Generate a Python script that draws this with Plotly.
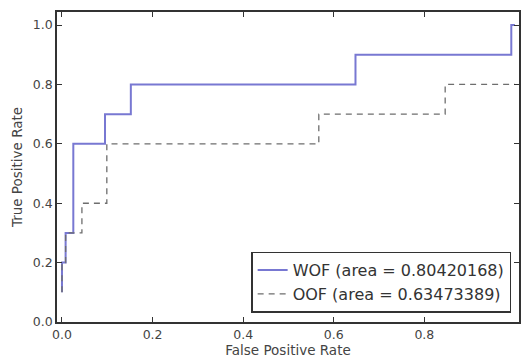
import plotly.graph_objects as go

# WOF ROC curve (step points)
wof_fpr = [0.0, 0.0, 0.008, 0.008, 0.025, 0.025, 0.095, 0.095, 0.152, 0.152, 0.648, 0.648, 0.992, 0.992, 1.0]
wof_tpr = [0.1, 0.2, 0.2, 0.3, 0.3, 0.6, 0.6, 0.7, 0.7, 0.8, 0.8, 0.9, 0.9, 1.0, 1.0]

# OOF ROC curve (step points)
oof_fpr = [0.0, 0.0, 0.008, 0.008, 0.044, 0.044, 0.099, 0.099, 0.567, 0.567, 0.846, 0.846, 1.0]
oof_tpr = [0.1, 0.2, 0.2, 0.3, 0.3, 0.4, 0.4, 0.6, 0.6, 0.7, 0.7, 0.8, 0.8]

wof_label = "WOF (area = 0.80420168)"
oof_label = "OOF (area = 0.63473389)"

x_ticks = [0.0, 0.2, 0.4, 0.6, 0.8]
y_ticks = [0.0, 0.2, 0.4, 0.6, 0.8, 1.0]

fig = go.Figure()
fig.add_trace(go.Scatter(x=wof_fpr, y=wof_tpr, mode="lines", name=wof_label,
                         line=dict(color="#7878d2", width=2)))
fig.add_trace(go.Scatter(x=oof_fpr, y=oof_tpr, mode="lines", name=oof_label,
                         line=dict(color="#6e6e6e", width=1.3, dash="6px,5px")))

axis_common = dict(showgrid=False, zeroline=False, showline=True, linecolor="#333333",
                   linewidth=1.5, mirror="ticks", ticks="inside", ticklen=5,
                   tickcolor="#333333", tickfont=dict(family="DejaVu Sans", size=12.5, color="#444444"))

fig.update_xaxes(range=[-0.011, 1.009], tickvals=x_ticks, ticktext=[f"{v:.1f}" for v in x_ticks],
                 title=dict(text="False Positive Rate", font=dict(family="DejaVu Sans", size=13.5, color="#444444"),
                            standoff=5), **axis_common)
fig.update_yaxes(range=[0, 1.044], tickvals=y_ticks, ticktext=[f"{v:.1f}" for v in y_ticks],
                 title=dict(text="True Positive Rate", font=dict(family="DejaVu Sans", size=13.5, color="#444444"),
                            standoff=7), **axis_common)

fig.update_layout(
    width=521, height=363,
    margin=dict(l=57, r=0, t=12, b=41),
    plot_bgcolor="white", paper_bgcolor="white",
    font=dict(family="DejaVu Sans", color="#333333"),
    legend=dict(x=0.983, y=0.03, xanchor="right", yanchor="bottom",
                bgcolor="white", bordercolor="#333333", borderwidth=1.5,
                font=dict(family="DejaVu Sans", size=16, color="#333333"),
                tracegroupgap=0, itemwidth=30),
)

fig.write_html("out.html")
